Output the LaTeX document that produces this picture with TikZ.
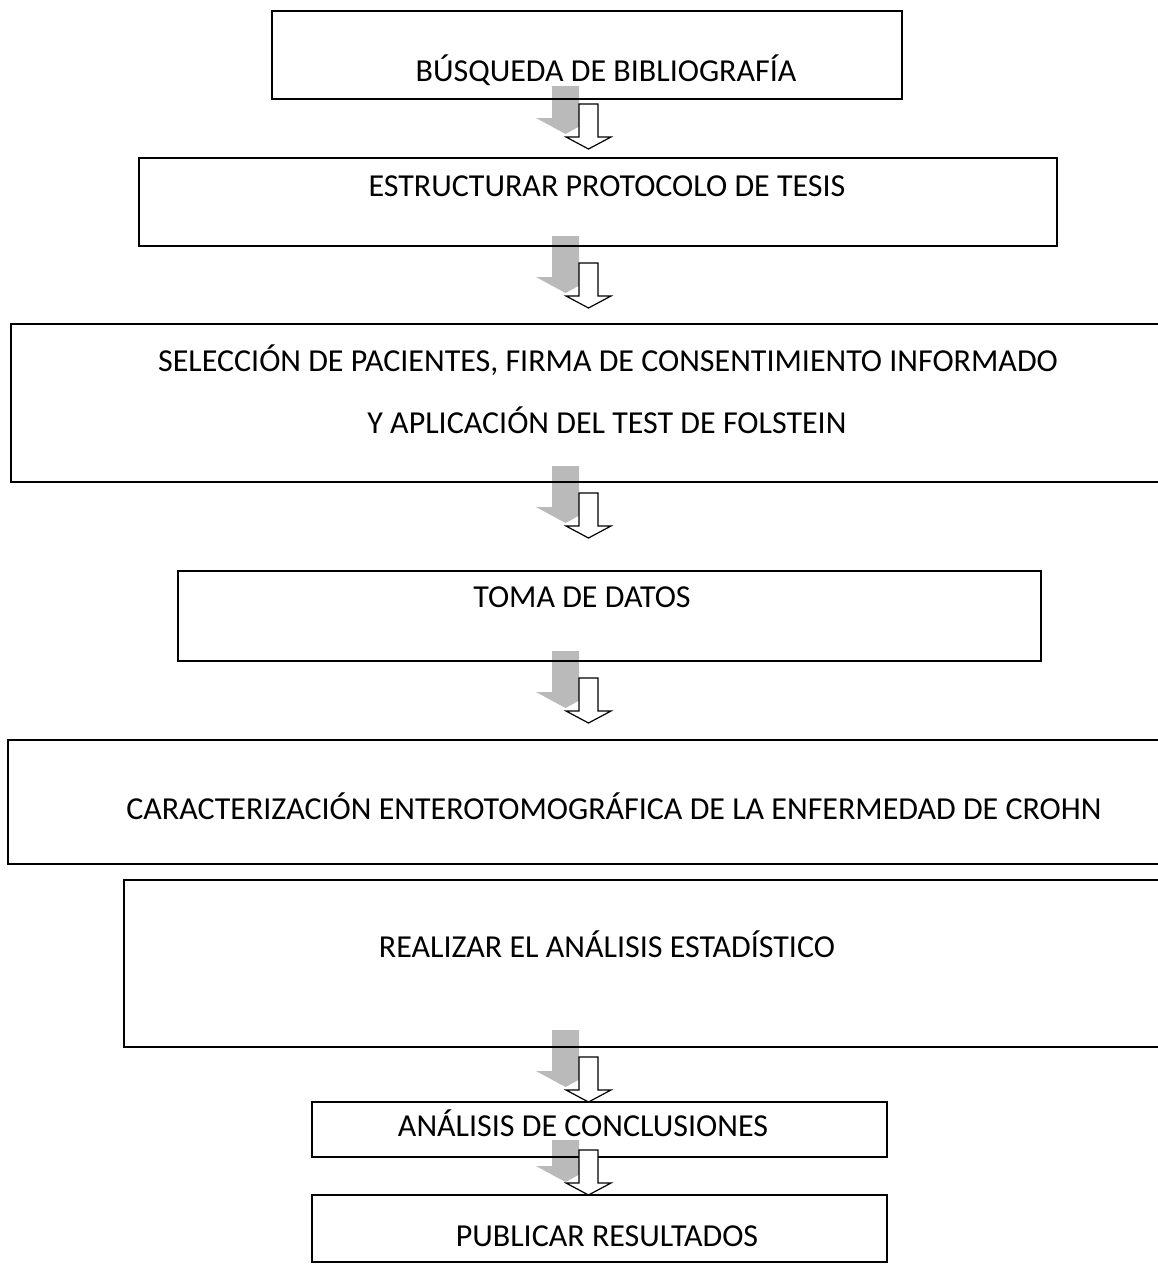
\documentclass[tikz,border=0pt]{standalone}
\usepackage{fontspec}
\setmainfont{Carlito}
\usetikzlibrary{calc}
% grey shadow of a block arrow: (x of white arrow, top of white arrow, top of shadow)
\def\sombra(#1,#2,#3){\fill[black!27] ($(#1-36.5,#3)$) -- ($(#1-9.5,#3)$) -- ($(#1-9.5,#2+14)$) -- ++(16,0) -- ($(#1-23,#2+30)$) -- ($(#1-52.5,#2+14)$) -- ++(16,0) -- cycle;}
% white block arrow: (x, top)
\def\flecha(#1,#2){\draw[line width=1.2pt, fill=white] ($(#1-9.5,#2)$) -- ++(19,0) -- ++(0,33) -- ++(13,0) -- ($(#1,#2+45)$) -- ($(#1-22.5,#2+33)$) -- ++(13,0) -- cycle;}

\begin{document}
\begin{tikzpicture}[x=1pt, y=-1pt, font=\fontsize{32}{38}\selectfont]
			%%%%% START %%%%%
			\useasboundingbox (0,0) rectangle (1157,1264);
			
			\sombra(588.5,104,86);
			\sombra(588.5,263,236);
			\sombra(588.5,493,466);
			\sombra(588.5,678,651);
			\sombra(588.5,1057,1030);
			\sombra(588.5,1152,1140);
			
			\draw[line width=1.8pt] (272, 11) rectangle (902, 99);
			\node (busqueda) at (606, 70) {BÚSQUEDA DE BIBLIOGRAFÍA};
			
			\draw[line width=1.8pt] (139, 158) rectangle (1057, 246);
			\node (protocolo) at (607, 186) {ESTRUCTURAR PROTOCOLO DE TESIS};
			
			\draw[line width=1.8pt] (11, 324) rectangle (1180, 482);
			\node (seleccion) at (608, 360) {SELECCIÓN DE PACIENTES, FIRMA DE CONSENTIMIENTO INFORMADO};
			\node (folstein) at (607, 420) {Y APLICACIÓN DEL TEST DE FOLSTEIN};
			
			\draw[line width=1.8pt] (178, 571) rectangle (1041, 661);
			\node (datos) at (582, 597) {TOMA DE DATOS};
			
			\draw[line width=1.8pt] (8, 740) rectangle (1180, 864);
			\node (crohn) at (614, 806) {CARACTERIZACIÓN ENTEROTOMOGRÁFICA DE LA ENFERMEDAD DE CROHN};
			
			\draw[line width=1.8pt] (124, 880) rectangle (1180, 1047);
			\node (estadistico) at (607, 944) {REALIZAR EL ANÁLISIS ESTADÍSTICO};
			
			\draw[line width=1.8pt] (312, 1102) rectangle (887, 1157);
			\node (conclusiones) at (583, 1123) {ANÁLISIS DE CONCLUSIONES};
			
			\draw[line width=1.8pt] (312, 1195) rectangle (887, 1262);
			\node (resultados) at (607, 1236) {PUBLICAR RESULTADOS};
			
			\flecha(588.5,104);
			\flecha(588.5,263);
			\flecha(588.5,493);
			\flecha(588.5,678);
			\flecha(588.5,1057);
			\flecha(588.5,1150);
			%%%%% END %%%%%
\end{tikzpicture}
\end{document}
